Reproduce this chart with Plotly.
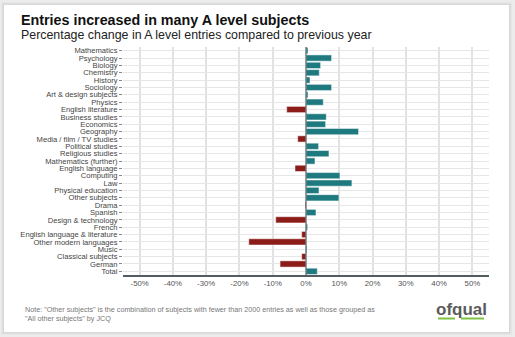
import plotly.graph_objects as go

subjects = [
    "Mathematics", "Psychology", "Biology", "Chemistry", "History", "Sociology",
    "Art & design subjects", "Physics", "English literature", "Business studies",
    "Economics", "Geography", "Media / film / TV studies", "Political studies",
    "Religious studies", "Mathematics (further)", "English language", "Computing",
    "Law", "Physical education", "Other subjects", "Drama", "Spanish",
    "Design & technology", "French", "English language & literature",
    "Other modern languages", "Music", "Classical subjects", "German", "Total",
]
pct_change = [
    0.6, 7.7, 4.4, 4.0, 1.2, 7.7,
    0.6, 5.2, -5.8, 6.1,
    5.9, 15.8, -2.5, 3.8,
    6.9, 2.7, -3.3, 10.2,
    13.8, 3.9, 9.9, -0.3, 3.0,
    -9.1, 0.5, -1.3,
    -17.2, 0.3, -1.3, -7.8, 3.4,
]
x_ticks = [-50, -40, -30, -20, -10, 0, 10, 20, 30, 40, 50]
x_tick_text = [f"{t}%" for t in x_ticks]

TEAL = "#1f7a80"
RED = "#8b1c17"
colors = [TEAL if v >= 0 else RED for v in pct_change]

W, H = 515, 337
L, R, T, B = 123, 26, 47, 62
PW, PH = W - L - R, H - T - B


def px(x):
    return (x - L) / PW


def py(y):
    return (H - B - y) / PH


fig = go.Figure()
fig.add_trace(go.Bar(
    x=pct_change, y=subjects, orientation="h",
    marker=dict(color=colors, line=dict(color="white", width=0.5)),
    width=0.85, hoverinfo="x+y",
))

# card background with a soft shadow
shapes = []
for i, c in enumerate(["#e6e6e6", "#dfdfdf", "#d8d8d8"]):
    d = 3 - i
    shapes.append(dict(type="rect", xref="paper", yref="paper", layer="below",
                       x0=px(4 - d), x1=px(509 + d), y0=py(332 + d), y1=py(5 - d),
                       fillcolor=c, line=dict(width=0)))
shapes.append(dict(type="rect", xref="paper", yref="paper", layer="below",
                   x0=px(4), x1=px(509), y0=py(332), y1=py(5),
                   fillcolor="white", line=dict(width=0)))
# zero line
shapes.append(dict(type="line", xref="x", yref="paper", x0=0, x1=0, y0=0, y1=1,
                   line=dict(color="#5a6a6e", width=1.2)))
# logo underline
for a, b in [(438, 455), (461, 484)]:
    shapes.append(dict(type="line", xref="paper", yref="paper",
                       x0=px(a), x1=px(b), y0=py(318.5), y1=py(318.5),
                       line=dict(color="#7dc242", width=2)))

FONT = "Liberation Sans, Arial, sans-serif"
annotations = [
    dict(text="<b>Entries increased in many A level subjects</b>", x=px(19), y=py(20),
         xref="paper", yref="paper", xanchor="left", yanchor="middle", showarrow=False,
         font=dict(family=FONT, size=14.3, color="#111")),
    dict(text="Percentage change in A level entries compared to previous year", x=px(19),
         y=py(35), xref="paper", yref="paper", xanchor="left", yanchor="middle",
         showarrow=False, font=dict(family=FONT, size=12.4, color="#222")),
    dict(text='Note: "Other subjects" is the combination of subjects with fewer than 2000 entries as well as those grouped as<br>"All other subjects" by JCQ',
         x=px(23), y=py(314), xref="paper", yref="paper", xanchor="left",
         yanchor="middle", align="left", showarrow=False,
         font=dict(family=FONT, size=7.2, color="#777")),
    dict(text="<b>ofqual</b>", x=px(461), y=py(309), xref="paper", yref="paper",
         xanchor="center", yanchor="middle", showarrow=False,
         font=dict(family=FONT, size=17, color="#5b5b5b")),
]

fig.update_layout(
    width=W, height=H,
    margin=dict(l=L, r=R, t=T, b=B),
    paper_bgcolor="#ececec", plot_bgcolor="rgba(0,0,0,0)",
    showlegend=False, bargap=0.15,
    shapes=shapes, annotations=annotations,
    font=dict(family=FONT, color="#444"),
)
fig.update_xaxes(
    range=[-55, 55], tickvals=x_ticks, ticktext=x_tick_text,
    tickfont=dict(size=7.8, color="#555"), showgrid=True, gridcolor="#e2e2e2",
    gridwidth=1.5, zeroline=False, showline=True, linecolor="#555c60", linewidth=1.5,
    ticks="", fixedrange=True,
)
fig.update_yaxes(
    categoryorder="array", categoryarray=subjects[::-1], autorange=False,
    range=[-0.5, len(subjects) - 0.5],
    tickmode="array", tickvals=subjects, ticktext=subjects,
    tickfont=dict(size=7.6, color="#444"), showgrid=True, gridcolor="#e6e6e6",
    gridwidth=1, ticks="outside", ticklen=3, tickcolor="#888", tickwidth=1,
    showline=False, zeroline=False,
)

fig.write_html("out.html")
